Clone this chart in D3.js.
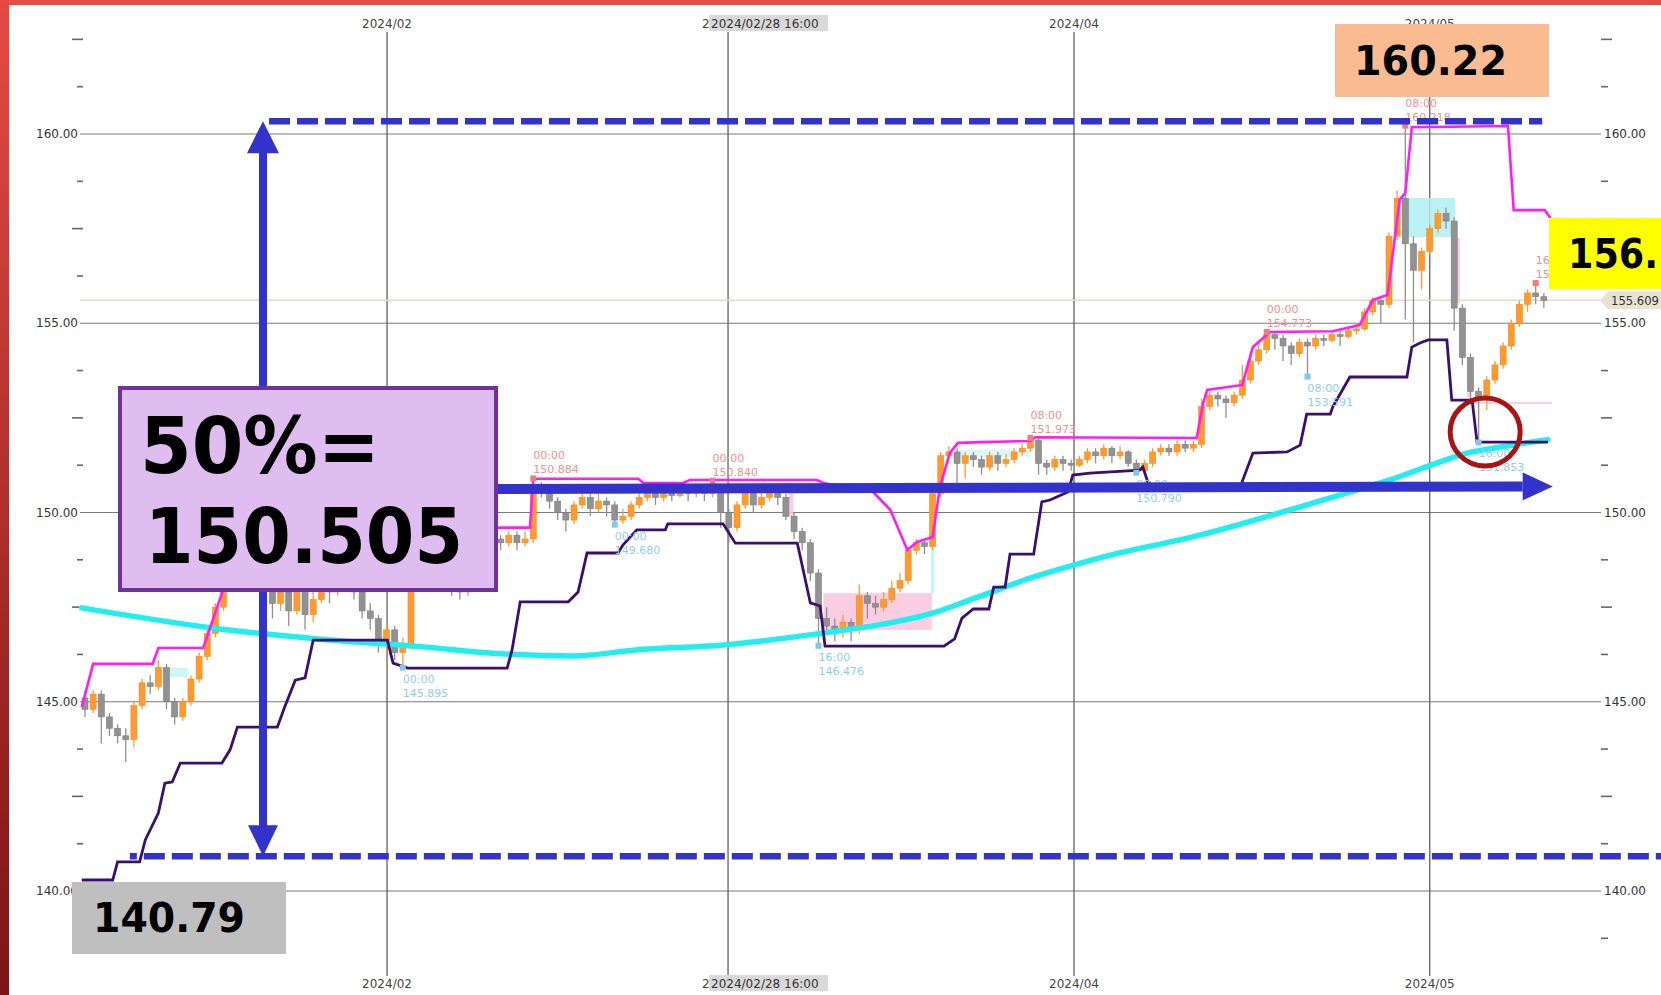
<!DOCTYPE html>
<html><head><meta charset="utf-8">
<script src="https://cdn.jsdelivr.net/npm/d3@7"></script>
<style>html,body{margin:0;padding:0;background:#fff;overflow:hidden}</style>
</head><body>
<svg id="c" width="1661" height="995"></svg>
<script>
// ---------- data ----------
const firstOpen = 145.1;
const closes = [
144.8,145.2,144.6,144.3,144.1,144.0,144.9,145.5,145.4,145.9,
145.0,144.6,145.0,145.6,146.2,146.8,147.5,148.0,148.4,148.7,
148.2,148.6,148.3,147.6,147.9,147.4,148.0,147.3,147.7,148.1,
147.9,148.3,148.5,147.9,147.4,147.2,146.5,146.9,146.3,146.5,
148.2,148.6,148.9,148.7,148.4,148.0,147.9,148.4,148.8,149.1,
149.3,149.2,149.4,149.2,149.3,150.7,150.6,150.3,150.0,149.8,
150.2,150.4,150.1,150.3,150.2,149.8,149.9,150.2,150.4,150.5,
150.4,150.55,150.45,150.6,150.5,150.6,150.5,150.7,150.0,149.6,
150.2,150.5,150.2,150.4,150.6,150.4,149.9,149.5,149.2,148.4,
147.2,147.0,146.9,147.1,146.9,147.8,147.6,147.5,147.7,148.0,
148.2,149.0,149.2,149.1,150.5,151.5,151.6,151.3,151.5,151.4,
151.2,151.5,151.3,151.4,151.6,151.7,151.9,151.3,151.2,151.4,
151.3,151.25,151.4,151.6,151.5,151.7,151.5,151.6,151.3,151.1,
151.3,151.6,151.7,151.6,151.8,151.7,151.8,152.8,153.1,153.0,
152.9,153.1,153.5,154.0,154.3,154.7,154.6,154.4,154.2,154.5,
154.4,154.6,154.55,154.7,154.65,154.8,154.85,155.3,155.6,155.5,
157.3,158.3,157.1,156.4,156.9,157.5,157.9,157.7,155.4,154.1,
153.2,153.0,153.5,153.9,154.4,155.0,155.5,155.8,155.7,155.6];
const highs = [
145.3,145.3,145.3,144.7,144.4,144.3,145.0,145.6,145.7,146.1,
146.0,145.1,145.1,145.7,146.3,146.9,147.6,148.2,148.6,149.0,
148.8,148.8,148.7,148.4,148.1,148.0,148.2,148.1,147.9,148.3,
148.3,148.5,148.7,148.6,148.0,147.6,147.3,147.1,147.0,146.7,
148.4,148.8,149.1,149.0,148.8,148.5,148.1,148.5,149.0,149.6,
149.5,149.4,149.5,149.5,149.5,150.9,150.8,150.7,150.4,150.1,
150.3,150.6,150.5,150.5,150.4,150.3,150.1,150.3,150.5,150.7,
150.6,150.7,150.65,150.75,150.7,150.75,150.7,150.84,150.75,150.1,
150.3,150.6,150.6,150.6,150.7,150.7,150.5,150.0,149.6,149.3,
148.5,147.5,147.2,147.3,147.2,148.1,147.9,147.8,147.9,148.2,
148.4,149.1,149.3,149.3,150.6,151.6,151.75,151.7,151.6,151.6,
151.5,151.6,151.6,151.55,151.7,151.8,151.97,151.95,151.4,151.5,
151.5,151.4,151.5,151.7,151.7,151.8,151.75,151.75,151.65,151.4,
151.4,151.7,151.8,151.8,151.9,151.9,151.9,153.0,153.2,153.2,
153.1,153.2,153.9,154.2,154.5,154.77,154.75,154.7,154.5,154.6,
154.6,154.7,154.7,154.8,154.8,154.9,155.0,155.4,155.7,155.7,
157.4,158.5,160.22,157.3,157.0,157.6,158.0,158.05,157.8,155.5,
154.2,153.3,153.6,154.0,154.5,155.1,155.6,155.9,156.06,155.8];
const lows = [
144.6,144.7,143.9,144.1,143.9,143.4,143.8,144.8,145.2,145.3,
144.8,144.4,144.5,144.9,145.5,146.1,146.7,147.4,147.9,148.3,
147.9,148.0,147.8,147.2,147.4,147.0,147.3,146.9,147.1,147.6,
147.6,147.8,148.1,147.7,147.2,146.9,146.3,146.3,146.1,145.9,
146.4,148.0,148.5,148.4,148.2,147.8,147.7,147.8,148.3,148.7,
149.0,149.0,149.1,149.0,149.1,149.2,150.4,150.1,149.8,149.5,
149.7,150.1,149.9,150.0,149.9,149.68,149.7,149.8,150.1,150.3,
150.2,150.3,150.3,150.4,150.3,150.4,150.3,150.4,149.6,149.2,
149.5,150.1,150.0,150.1,150.3,150.2,149.8,149.3,149.0,148.2,
146.48,146.8,146.6,146.7,146.6,146.8,147.2,147.3,147.4,147.6,
147.9,148.1,148.9,148.9,149.0,150.4,151.3,150.7,150.9,151.2,
151.0,151.1,151.1,151.2,151.3,151.5,151.6,151.0,151.0,151.1,
151.1,151.1,151.2,151.3,151.3,151.4,151.3,151.4,151.2,151.05,
151.0,151.2,151.5,151.5,151.5,151.6,151.6,151.7,152.7,152.8,
152.5,152.8,153.0,153.4,153.9,154.2,154.3,154.0,153.9,154.1,
153.59,154.3,154.4,154.5,154.4,154.6,154.7,154.8,155.2,155.0,
155.4,157.2,155.1,154.5,155.9,156.8,157.4,157.5,154.8,153.9,
152.9,151.85,152.7,153.4,153.8,154.3,154.9,155.3,155.5,155.4];

// [bar index, price]
const upperBand = [[-0.4,144.86],[1.0,146.0],[8.3,146.0],[9.0,146.42],[14.5,146.42],[16.8,147.87],[17.5,148.2],[19,149.0],[49,149.0],[49.5,149.6],[54.6,149.6],[55.0,150.89],[67.9,150.89],[68.5,150.78],[73.4,150.78],[74.2,150.86],[89.8,150.86],[90.6,150.78],[96.7,150.54],[98.8,150.07],[100.9,149.01],[102.1,149.22],[104.0,149.35],[104.9,150.67],[106.1,151.57],[107.1,151.84],[110.2,151.86],[116.0,151.89],[116.6,151.99],[136.4,151.97],[137.2,152.89],[137.7,153.24],[142.0,153.37],[142.6,153.84],[143.3,154.37],[145.4,154.77],[153.1,154.79],[156.4,154.95],[158.0,155.61],[159.8,155.75],[160.1,156.2],[161.3,158.26],[162.0,158.44],[162.8,160.18],[174.6,160.21],[175.3,157.99],[179.1,157.99],[179.8,157.78]];
const lowerBand = [[-0.4,140.29],[3.4,140.29],[4.0,140.77],[6.7,140.77],[7.4,141.35],[9.0,142.06],[9.8,142.85],[10.7,142.88],[11.7,143.38],[16.8,143.38],[17.8,143.73],[18.7,144.33],[23.6,144.33],[24.5,144.86],[25.8,145.57],[27.0,145.63],[28.0,146.63],[37.1,146.63],[37.8,146.02],[39.6,145.89],[51.8,145.89],[52.4,146.37],[53.4,147.64],[59.3,147.64],[60.5,147.9],[61.6,148.93],[65.4,148.93],[66.0,149.14],[67.7,149.54],[71.2,149.54],[71.5,149.7],[78.3,149.7],[79.8,149.19],[87.4,149.19],[89.0,147.61],[90.2,147.53],[90.8,146.47],[105.4,146.47],[106.7,146.66],[107.6,147.21],[109.0,147.45],[110.9,147.45],[111.5,148.03],[112.9,148.03],[113.5,148.9],[116.4,148.9],[117.4,150.28],[118.4,150.33],[120.6,150.54],[121.2,150.99],[123.3,151.04],[129.4,151.12],[129.8,151.2],[130.4,150.81],[131.3,150.65],[141.7,150.65],[143.3,151.57],[147.5,151.6],[149.1,151.78],[149.9,152.6],[152.8,152.6],[153.1,152.79],[155.2,153.58],[162.2,153.58],[162.8,154.37],[163.8,154.48],[164.8,154.56],[167.1,154.56],[167.7,152.97],[170.2,152.97],[170.8,151.86],[179.5,151.86]];
const maLine = [[-0.4,147.48],[15.6,146.95],[28.6,146.66],[41.6,146.45],[49.7,146.29],[59.9,146.21],[67.6,146.37],[78.3,146.5],[91.4,146.84],[97.4,147.03],[104.4,147.37],[108.6,147.69],[116.9,148.33],[121.3,148.61],[124.5,148.8],[136.9,149.41],[149.1,150.15],[156.4,150.62],[160.1,150.86],[165.5,151.28],[169.6,151.57],[173.7,151.73],[179.5,151.92]];
// zones: [i0, i1, low, high, colour]
const zones = [[9.2,12.6,145.65,145.89,'#c4f4f6'],[90.6,103.9,146.9,147.87,'#f9c4dd'],[86.3,86.9,149.9,150.54,'#f9c4dd'],[103.8,104.2,147.87,149.19,'#b8f2f4'],[107,116,151.47,151.65,'#d0f6f7'],[161.6,168.1,157.28,158.31,'#aeeff2'],[168.1,168.7,155.53,157.25,'#f9c4dd'],[169.6,170.1,153.05,154.03,'#f9c4dd'],[170.3,180,152.87,152.92,'#f7c8dc']];
const hiMarks = [[55,'00:00','150.884'],[77,'00:00','150.840'],[116,'08:00','151.973'],[145,'00:00','154.773'],[162,'08:00','160.218'],[178,'16','15']];
const loMarks = [[39,'00:00','145.895'],[65,'00:00','149.680'],[90,'16:00','146.476'],[129,'08:00','150.790'],[150,'08:00','153.591'],[171,'16:00','151.853']];
const yMajor = [140,145,150,155,160];
const yMinor = [138.75,141.25,142.5,143.75,146.25,147.5,148.75,151.25,152.5,153.75,156.25,157.5,158.75,161.25,162.5];
const monthTicks = [37.06,121.35,165.0];
const monthLabels = ['2024/02','2024/04','2024/05'];
const crossIdx = 78.9, crossLabel = '2024/02/28 16:00';
const lastPrice = 155.609, lastLabel = '155.609';
// annotation levels as drawn
const topLevel = 160.34, botLevel = 140.92, midLeft = 150.62, midRight = 150.69;
const topLabel = '160.22', botLabel = '140.79', midLabel1 = '50%=', midLabel2 = '150.505', curLabel = '156.';

// ---------- scales ----------
const svg = d3.select('#c');
const x = d3.scaleLinear().domain([0,179]).range([85,1543.85]);
const y = d3.scaleLinear().domain([140,160]).range([891,134]);
const FONT = 'DejaVu Sans, Verdana, sans-serif';

const defs = svg.append('defs');
const g1 = defs.append('linearGradient').attr('id','rg').attr('x1',0).attr('y1',0).attr('x2',0).attr('y2',1);
g1.append('stop').attr('offset',0).attr('stop-color','#e64a42');
g1.append('stop').attr('offset',1).attr('stop-color','#7c1515');
svg.append('rect').attr('width',1661).attr('height',995).attr('fill','#fff');

// grid
const grid = svg.append('g');
grid.selectAll('.hg').data(yMajor).join('line')
  .attr('x1',80).attr('x2',1601).attr('y1',d=>y(d)).attr('y2',d=>y(d))
  .attr('stroke','#7a7a7a').attr('stroke-width',1.2);
grid.selectAll('.vg').data(monthTicks.concat([crossIdx])).join('line')
  .attr('x1',d=>x(d)).attr('x2',d=>x(d)).attr('y1',32).attr('y2',976)
  .attr('stroke','#555').attr('stroke-width',1.2);
grid.selectAll('.mtl').data(yMinor).join('line')
  .attr('x1',d=>(d%2.5===0)?72:77).attr('x2',83).attr('y1',d=>y(d)).attr('y2',d=>y(d))
  .attr('stroke','#666').attr('stroke-width',1.6);
grid.selectAll('.mtr').data(yMinor).join('line')
  .attr('x1',1601).attr('x2',d=>(d%2.5===0)?1612:1608).attr('y1',d=>y(d)).attr('y2',d=>y(d))
  .attr('stroke','#666').attr('stroke-width',1.6);
const fmt = d3.format('.2f');
grid.selectAll('.yl').data(yMajor).join('text')
  .attr('x',78).attr('y',d=>y(d)+4).attr('text-anchor','end')
  .attr('font-family',FONT).attr('font-size',12).attr('fill','#333').text(d=>fmt(d));
grid.selectAll('.yr').data(yMajor).join('text')
  .attr('x',1604).attr('y',d=>y(d)+4)
  .attr('font-family',FONT).attr('font-size',12).attr('fill','#333').text(d=>fmt(d));
[28,988].forEach(yy=>{
  grid.selectAll(null).data(monthTicks).join('text')
    .attr('x',d=>x(d)).attr('y',yy).attr('text-anchor','middle')
    .attr('font-family',FONT).attr('font-size',12).attr('fill','#444').text((d,i)=>monthLabels[i]);
  grid.append('text').attr('x',x(crossIdx)-26).attr('y',yy).attr('font-family',FONT).attr('font-size',12).attr('fill','#444').text('2');
  grid.append('rect').attr('x',x(crossIdx)-19).attr('y',yy-13).attr('width',119).attr('height',16).attr('fill','#d9d9d9');
  grid.append('text').attr('x',x(crossIdx)-17).attr('y',yy).attr('font-family',FONT).attr('font-size',12).attr('fill','#333').text(crossLabel);
});

// zones
svg.append('g').selectAll('rect').data(zones).join('rect')
  .attr('x',d=>x(d[0])).attr('width',d=>x(d[1])-x(d[0]))
  .attr('y',d=>y(d[3])).attr('height',d=>Math.max(1,y(d[2])-y(d[3])))
  .attr('fill',d=>d[4]).attr('opacity',0.85);

// last price line
svg.append('line').attr('x1',80).attr('x2',1601).attr('y1',y(lastPrice)).attr('y2',y(lastPrice))
  .attr('stroke','#e4ddc8').attr('stroke-width',1.6);

// candles
const bars = closes.map((c,i)=>({i,o:i===0?firstOpen:closes[i-1],c,h:highs[i],l:lows[i]}));
const cg = svg.append('g');
cg.selectAll('line').data(bars).join('line')
  .attr('x1',d=>x(d.i)).attr('x2',d=>x(d.i)).attr('y1',d=>y(d.h)).attr('y2',d=>y(d.l))
  .attr('stroke',d=>d.c>=d.o?'#ff9a2e':'#8f8f8f').attr('stroke-width',1.3);
cg.selectAll('rect').data(bars).join('rect')
  .attr('x',d=>x(d.i)-3).attr('width',6)
  .attr('y',d=>y(Math.max(d.o,d.c))).attr('height',d=>Math.max(1.5,Math.abs(y(d.o)-y(d.c))))
  .attr('fill',d=>d.c>=d.o?'#ff9a2e':'#929292').attr('stroke',d=>d.c>=d.o?'#f08a1e':'#7d7d7d').attr('stroke-width',0.6);

// lines
const ln = d3.line().x(d=>x(d[0])).y(d=>y(d[1]));
svg.append('path').attr('d',ln.curve(d3.curveMonotoneX)(maLine)).attr('fill','none').attr('stroke','#22eef0').attr('stroke-width',5.5).attr('stroke-linecap','round');
svg.append('path').attr('d',ln.curve(d3.curveLinear)(upperBand)).attr('fill','none').attr('stroke','#ff1ef2').attr('stroke-width',2.6);
svg.append('path').attr('d',ln.curve(d3.curveLinear)(lowerBand)).attr('fill','none').attr('stroke','#3a0f6e').attr('stroke-width',2.8);

// high / low marks
const mg = svg.append('g').attr('font-family',FONT).attr('font-size',11);
hiMarks.forEach(([i,t,p])=>{
  const mx=x(i), my=y(highs[i]);
  mg.append('rect').attr('x',mx-3).attr('y',my-3).attr('width',6).attr('height',6).attr('fill','#f07c7c');
  mg.append('text').attr('x',mx).attr('y',my-19).attr('fill','#f29090').text(t);
  mg.append('text').attr('x',mx).attr('y',my-5).attr('fill','#f29090').text(p);
});
loMarks.forEach(([i,t,p])=>{
  const mx=x(i), my=y(lows[i]);
  mg.append('rect').attr('x',mx-3).attr('y',my-3).attr('width',6).attr('height',6).attr('fill','#7ec8f2');
  mg.append('text').attr('x',mx).attr('y',my+15).attr('fill','#8ccdf2').text(t);
  mg.append('text').attr('x',mx).attr('y',my+29).attr('fill','#8ccdf2').text(p);
});

// last price tag
const ly = y(lastPrice);
svg.append('path').attr('d',`M1600,${ly} L1608,${ly-9} L1661,${ly-9} L1661,${ly+9} L1608,${ly+9} Z`).attr('fill','#e9e2d2');
svg.append('text').attr('x',1611).attr('y',ly+4.5).attr('font-family',FONT).attr('font-size',12)
  .attr('textLength',48).attr('lengthAdjust','spacingAndGlyphs').attr('fill','#333').text(lastLabel);

// annotations
const BLUE = '#3333cc';
const an = svg.append('g');
an.append('line').attr('x1',x(21.84)).attr('x2',x(178.8)).attr('y1',y(topLevel)).attr('y2',y(topLevel))
  .attr('stroke',BLUE).attr('stroke-width',6.5).attr('stroke-dasharray','21 7').attr('stroke-dashoffset',-6);
an.append('line').attr('x1',x(5.5)).attr('x2',1661).attr('y1',y(botLevel)).attr('y2',y(botLevel))
  .attr('stroke',BLUE).attr('stroke-width',6.5).attr('stroke-dasharray','21 7').attr('stroke-dashoffset',14);
const ax = x(21.84), ty = y(topLevel), by = y(botLevel);
an.append('rect').attr('x',ax-4).attr('y',ty+28).attr('width',8).attr('height',(by-30)-(ty+28)).attr('fill',BLUE);
an.append('path').attr('d',`M${ax},${ty} L${ax+16},${ty+32} L${ax-16},${ty+32} Z`).attr('fill',BLUE);
an.append('path').attr('d',`M${ax},${by} L${ax+15},${by-31} L${ax-15},${by-31} Z`).attr('fill',BLUE);
const hx0 = x(50.0), hx1 = x(176.4), hxt = x(180.1), hy0 = y(midLeft), hy1 = y(midRight);
an.append('path').attr('d',`M${hx0},${hy0-5} L${hx1},${hy1-5} L${hx1},${hy1+5} L${hx0},${hy0+5} Z`).attr('fill',BLUE);
an.append('path').attr('d',`M${hx1},${hy1-14} L${hxt},${hy1} L${hx1},${hy1+14} Z`).attr('fill',BLUE);

// boxes
const bf = 'DejaVu Sans, Verdana, sans-serif';
an.append('rect').attr('x',120).attr('y',388).attr('width',376).attr('height',202).attr('fill','#dfbdf1').attr('stroke','#7030a0').attr('stroke-width',4);
an.append('text').attr('x',140).attr('y',473).attr('font-family',bf).attr('font-weight','bold').attr('font-size',78)
  .attr('textLength',240).attr('lengthAdjust','spacingAndGlyphs').attr('fill','#000').text(midLabel1);
an.append('text').attr('x',145).attr('y',563).attr('font-family',bf).attr('font-weight','bold').attr('font-size',77)
  .attr('textLength',318).attr('lengthAdjust','spacingAndGlyphs').attr('fill','#000').text(midLabel2);

an.append('rect').attr('x',1335).attr('y',24).attr('width',214).attr('height',73).attr('fill','#fbbb90');
an.append('text').attr('x',1354).attr('y',75).attr('font-family',bf).attr('font-weight','bold').attr('font-size',41)
  .attr('textLength',153).attr('lengthAdjust','spacingAndGlyphs').attr('fill','#000').text(topLabel);

an.append('rect').attr('x',1549).attr('y',218).attr('width',112).attr('height',71).attr('fill','#ffff00');
an.append('text').attr('x',1568).attr('y',268).attr('font-family',bf).attr('font-weight','bold').attr('font-size',40)
  .attr('textLength',90).attr('lengthAdjust','spacingAndGlyphs').attr('fill','#000').text(curLabel);

an.append('rect').attr('x',72).attr('y',882).attr('width',214).attr('height',72).attr('fill','#bfbfbf');
an.append('text').attr('x',93).attr('y',932).attr('font-family',bf).attr('font-weight','bold').attr('font-size',41)
  .attr('textLength',152).attr('lengthAdjust','spacingAndGlyphs').attr('fill','#000').text(botLabel);

an.append('ellipse').attr('cx',x(171.8)).attr('cy',y(152.13)).attr('rx',35).attr('ry',34)
  .attr('fill','none').attr('stroke','#a81414').attr('stroke-width',5);

// frame strips
svg.append('rect').attr('x',0).attr('y',0).attr('width',1661).attr('height',5).attr('fill','#e54c45');
svg.append('rect').attr('x',0).attr('y',0).attr('width',9).attr('height',995).attr('fill','url(#rg)');
</script>
</body></html>
